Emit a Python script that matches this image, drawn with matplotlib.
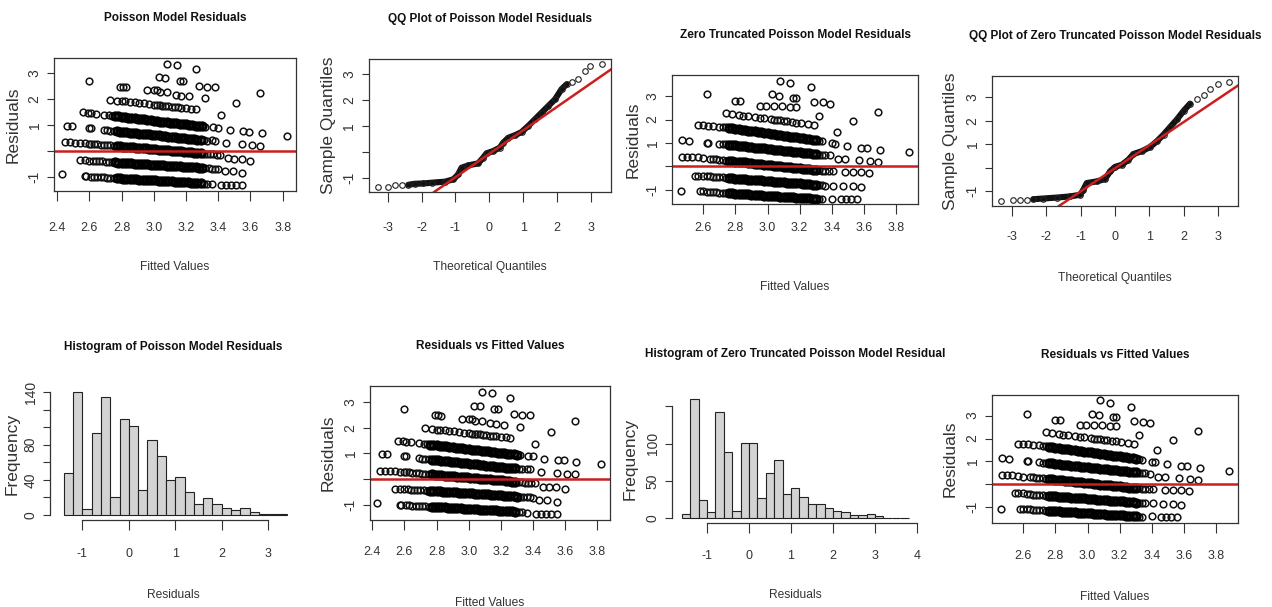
import numpy as np
import matplotlib
matplotlib.use("Agg")
import matplotlib.pyplot as plt
from matplotlib import font_manager as fm

W, H = 1272, 607

# ---------------- data ----------------
# Poisson model: (fitted value, residual), one list per visible band
p_band1 = [(2.73, 1.97), (2.77, 1.94), (2.80, 1.92), (2.82, 1.91), (2.85, 1.89), (2.88, 1.87), (2.91, 1.85),
           (2.94, 1.83), (2.97, 1.80), (3.00, 1.78), (3.02, 1.77), (3.04, 1.76), (3.05, 1.75), (3.07, 1.74),
           (3.09, 1.72), (3.11, 1.71), (3.13, 1.69), (3.15, 1.68), (3.17, 1.67), (3.20, 1.65), (3.23, 1.62),
           (3.26, 1.60)]
p_band2 = [(2.56, 1.49), (2.59, 1.47), (2.61, 1.45), (2.64, 1.43), (2.69, 1.39), (2.72, 1.37), (2.74, 1.36),
           (2.76, 1.34), (2.78, 1.33), (2.80, 1.31), (2.82, 1.30), (2.84, 1.28), (2.86, 1.27), (2.88, 1.25),
           (2.90, 1.24), (2.92, 1.22), (2.94, 1.21), (2.96, 1.19), (2.98, 1.18), (3.00, 1.16), (3.02, 1.15),
           (3.04, 1.13), (3.06, 1.12), (3.08, 1.11), (3.10, 1.09), (3.12, 1.08), (3.14, 1.06), (3.16, 1.05),
           (3.18, 1.03), (3.20, 1.02), (3.22, 1.00), (3.24, 0.99), (3.26, 0.97), (3.28, 0.96), (3.30, 0.94),
           (3.32, 0.93), (3.37, 0.90), (3.40, 0.88)]
p_band3 = [(2.46, 0.97), (2.49, 0.96), (2.60, 0.88), (2.61, 0.88), (2.69, 0.81), (2.71, 0.80), (2.73, 0.78),
           (2.75, 0.77), (2.77, 0.76), (2.79, 0.74), (2.81, 0.73), (2.83, 0.72), (2.85, 0.70), (2.87, 0.69),
           (2.89, 0.68), (2.91, 0.66), (2.93, 0.65), (2.95, 0.64), (2.97, 0.63), (2.99, 0.61), (3.01, 0.60),
           (3.03, 0.59), (3.05, 0.57), (3.07, 0.56), (3.09, 0.55), (3.11, 0.53), (3.13, 0.52), (3.15, 0.51),
           (3.17, 0.49), (3.19, 0.48), (3.21, 0.47), (3.23, 0.45), (3.25, 0.44), (3.27, 0.43), (3.29, 0.42),
           (3.31, 0.40), (3.33, 0.39), (3.36, 0.40), (3.38, 0.38)]
p_band4 = [(2.45, 0.32), (2.48, 0.32), (2.51, 0.31), (2.54, 0.30), (2.57, 0.29), (2.60, 0.27), (2.61, 0.27),
           (2.63, 0.26), (2.65, 0.25), (2.67, 0.24), (2.69, 0.23), (2.71, 0.22), (2.73, 0.21), (2.75, 0.20),
           (2.77, 0.19), (2.79, 0.17), (2.81, 0.16), (2.83, 0.15), (2.85, 0.14), (2.87, 0.13), (2.89, 0.12),
           (2.91, 0.11), (2.93, 0.10), (2.95, 0.09), (2.97, 0.08), (2.99, 0.07), (3.01, 0.06), (3.03, 0.04),
           (3.05, 0.03), (3.07, 0.02), (3.09, 0.01), (3.11, 0.00), (3.13, -0.01), (3.15, -0.02), (3.17, -0.03),
           (3.19, -0.04), (3.21, -0.05), (3.23, -0.06), (3.25, -0.08), (3.27, -0.09), (3.29, -0.10),
           (3.31, -0.11), (3.33, -0.12), (3.35, -0.13), (3.37, -0.14), (3.39, -0.15), (3.41, -0.16)]
p_band5 = [(2.54, -0.36), (2.57, -0.36), (2.60, -0.38), (2.62, -0.39), (2.64, -0.40), (2.66, -0.41),
           (2.68, -0.41), (2.70, -0.42), (2.72, -0.43), (2.74, -0.44), (2.76, -0.45), (2.78, -0.46),
           (2.80, -0.46), (2.82, -0.47), (2.84, -0.48), (2.86, -0.49), (2.88, -0.50), (2.90, -0.50),
           (2.92, -0.51), (2.94, -0.52), (2.96, -0.53), (2.98, -0.54), (3.00, -0.55), (3.02, -0.55),
           (3.04, -0.56), (3.06, -0.57), (3.08, -0.58), (3.10, -0.59), (3.12, -0.59), (3.14, -0.60),
           (3.16, -0.61), (3.18, -0.62), (3.20, -0.63), (3.22, -0.64), (3.24, -0.64), (3.26, -0.65),
           (3.28, -0.66), (3.30, -0.67), (3.32, -0.68), (3.34, -0.68), (3.36, -0.69), (3.38, -0.70),
           (3.40, -0.71), (3.44, -0.80), (3.49, -0.80), (3.55, -0.87)]
p_band6 = [(2.43, -0.92), (2.57, -0.99), (2.58, -0.99), (2.61, -1.00), (2.63, -1.01), (2.65, -1.02),
           (2.67, -1.03), (2.69, -1.03), (2.71, -1.04), (2.73, -1.05), (2.75, -1.06), (2.77, -1.06),
           (2.79, -1.07), (2.81, -1.08), (2.83, -1.09), (2.85, -1.09), (2.87, -1.10), (2.89, -1.11),
           (2.91, -1.12), (2.93, -1.12), (2.95, -1.13), (2.97, -1.14), (2.99, -1.15), (3.01, -1.15),
           (3.03, -1.16), (3.05, -1.17), (3.07, -1.18), (3.09, -1.18), (3.11, -1.19), (3.13, -1.20),
           (3.15, -1.21), (3.17, -1.21), (3.19, -1.22), (3.21, -1.23), (3.23, -1.24), (3.25, -1.24),
           (3.27, -1.25), (3.29, -1.26), (3.31, -1.27), (3.33, -1.27), (3.36, -1.30), (3.42, -1.33),
           (3.45, -1.33), (3.48, -1.33), (3.51, -1.33), (3.55, -1.33)]
p_sparse = [(3.08, 3.36), (3.145, 3.32), (3.26, 3.15), (2.60, 2.71), (3.03, 2.84), (3.07, 2.83), (3.16, 2.71),
            (3.18, 2.71), (2.79, 2.48), (2.81, 2.48), (2.83, 2.46), (2.96, 2.35), (3.00, 2.35), (3.02, 2.35),
            (3.04, 2.26), (3.08, 2.26), (3.135, 2.16), (3.17, 2.13), (3.22, 2.11), (3.28, 2.52), (3.33, 2.48),
            (3.38, 2.47), (3.32, 2.03), (3.66, 2.25), (3.51, 1.84), (3.415, 1.38), (3.47, 0.80), (3.555, 0.76),
            (3.59, 0.74), (3.67, 0.67), (3.825, 0.58), (3.45, 0.28), (3.55, 0.25), (3.61, 0.22), (3.66, 0.19),
            (3.46, -0.30), (3.50, -0.31), (3.545, -0.31), (3.60, -0.39)]

# Zero truncated Poisson model: (fitted value, residual)
z_band1 = [(2.74, 2.27), (2.78, 2.23), (2.82, 2.20), (2.85, 2.17), (2.88, 2.14), (2.92, 2.11), (2.95, 2.08),
           (2.98, 2.05), (3.02, 2.02), (3.04, 2.00), (3.06, 1.98), (3.08, 1.96), (3.10, 1.94), (3.12, 1.93),
           (3.15, 1.90), (3.18, 1.87), (3.21, 1.84), (3.25, 1.81), (3.29, 1.77)]
z_band2 = [(2.57, 1.77), (2.60, 1.76), (2.63, 1.74), (2.66, 1.72), (2.70, 1.70), (2.72, 1.68), (2.74, 1.66),
           (2.76, 1.64), (2.78, 1.62), (2.80, 1.60), (2.82, 1.58), (2.84, 1.56), (2.86, 1.54), (2.88, 1.53),
           (2.90, 1.51), (2.92, 1.49), (2.94, 1.47), (2.96, 1.45), (2.98, 1.43), (3.00, 1.41), (3.02, 1.39),
           (3.04, 1.37), (3.06, 1.35), (3.08, 1.33), (3.10, 1.31), (3.12, 1.29), (3.14, 1.27), (3.16, 1.25),
           (3.18, 1.24), (3.20, 1.22), (3.22, 1.20), (3.24, 1.18), (3.26, 1.16), (3.28, 1.14), (3.30, 1.12),
           (3.32, 1.10), (3.34, 1.08), (3.40, 0.99), (3.42, 0.97)]
z_band3 = [(2.47, 1.13), (2.51, 1.10), (2.62, 1.01), (2.63, 1.00), (2.70, 0.97), (2.72, 0.95), (2.74, 0.94),
           (2.76, 0.92), (2.78, 0.91), (2.80, 0.89), (2.82, 0.88), (2.84, 0.86), (2.86, 0.85), (2.88, 0.83),
           (2.90, 0.82), (2.92, 0.80), (2.94, 0.79), (2.96, 0.77), (2.98, 0.76), (3.00, 0.74), (3.02, 0.73),
           (3.04, 0.71), (3.06, 0.70), (3.08, 0.68), (3.10, 0.67), (3.12, 0.65), (3.14, 0.64), (3.16, 0.62),
           (3.18, 0.61), (3.20, 0.59), (3.22, 0.58), (3.24, 0.56), (3.26, 0.55), (3.28, 0.53), (3.30, 0.52),
           (3.32, 0.50), (3.34, 0.49), (3.36, 0.48), (3.39, 0.46), (3.44, 0.31), (3.48, 0.31)]
z_band4 = [(2.47, 0.41), (2.50, 0.41), (2.53, 0.41), (2.57, 0.38), (2.60, 0.34), (2.64, 0.31), (2.66, 0.30),
           (2.68, 0.29), (2.70, 0.27), (2.72, 0.26), (2.74, 0.24), (2.76, 0.23), (2.78, 0.21), (2.80, 0.20),
           (2.82, 0.18), (2.84, 0.17), (2.86, 0.16), (2.88, 0.14), (2.90, 0.13), (2.92, 0.11), (2.94, 0.10),
           (2.96, 0.08), (2.98, 0.07), (3.00, 0.05), (3.02, 0.04), (3.04, 0.02), (3.06, 0.01), (3.08, -0.01),
           (3.10, -0.02), (3.12, -0.03), (3.14, -0.05), (3.16, -0.06), (3.18, -0.08), (3.20, -0.09),
           (3.22, -0.11), (3.24, -0.12), (3.26, -0.14), (3.28, -0.15), (3.30, -0.16), (3.32, -0.18),
           (3.34, -0.19), (3.36, -0.19), (3.385, -0.19), (3.41, -0.19)]
z_band5 = [(2.55, -0.40), (2.57, -0.40), (2.60, -0.40), (2.62, -0.43), (2.64, -0.44), (2.66, -0.45),
           (2.68, -0.46), (2.70, -0.47), (2.72, -0.48), (2.74, -0.49), (2.76, -0.50), (2.78, -0.51),
           (2.80, -0.53), (2.82, -0.54), (2.84, -0.55), (2.86, -0.56), (2.88, -0.57), (2.90, -0.58),
           (2.92, -0.59), (2.94, -0.60), (2.96, -0.61), (2.98, -0.62), (3.00, -0.63), (3.02, -0.65),
           (3.04, -0.66), (3.06, -0.67), (3.08, -0.68), (3.10, -0.69), (3.12, -0.70), (3.14, -0.71),
           (3.16, -0.72), (3.18, -0.73), (3.20, -0.74), (3.22, -0.75), (3.24, -0.77), (3.26, -0.78),
           (3.28, -0.79), (3.30, -0.80), (3.32, -0.81), (3.34, -0.82), (3.36, -0.83), (3.41, -0.83),
           (3.47, -0.85), (3.53, -0.85), (3.58, -0.90)]
z_band6 = [(2.46, -1.06), (2.58, -1.06), (2.60, -1.08), (2.62, -1.09), (2.64, -1.10), (2.66, -1.11),
           (2.68, -1.12), (2.70, -1.13), (2.72, -1.14), (2.74, -1.15), (2.76, -1.15), (2.78, -1.16),
           (2.80, -1.17), (2.82, -1.18), (2.84, -1.19), (2.86, -1.20), (2.88, -1.21), (2.90, -1.22),
           (2.92, -1.23), (2.94, -1.24), (2.96, -1.25), (2.98, -1.26), (3.00, -1.26), (3.02, -1.27),
           (3.04, -1.28), (3.06, -1.29), (3.08, -1.30), (3.10, -1.31), (3.12, -1.32), (3.14, -1.33),
           (3.16, -1.34), (3.18, -1.35), (3.20, -1.36), (3.22, -1.36), (3.24, -1.37), (3.26, -1.38),
           (3.28, -1.39), (3.30, -1.40), (3.32, -1.41), (3.34, -1.42), (3.40, -1.40), (3.46, -1.42),
           (3.49, -1.42), (3.52, -1.42), (3.56, -1.42)]
z_sparse = [(3.08, 3.67), (3.14, 3.56), (3.27, 3.39), (2.62, 3.09), (3.03, 3.09), (3.07, 3.03), (3.16, 2.94),
            (3.18, 2.92), (2.80, 2.80), (2.83, 2.80), (2.95, 2.59), (2.99, 2.59), (3.04, 2.57), (3.09, 2.57),
            (3.14, 2.55), (3.18, 2.55), (3.29, 2.77), (3.345, 2.74), (3.39, 2.66), (3.32, 2.16), (3.69, 2.34),
            (3.53, 1.94), (3.43, 1.48), (3.495, 0.88), (3.58, 0.80), (3.62, 0.80), (3.70, 0.70), (3.88, 0.60),
            (3.57, 0.27), (3.64, 0.23), (3.69, 0.20), (3.48, -0.23), (3.53, -0.23), (3.58, -0.26), (3.63, -0.30)]

# QQ plots: theoretical vs sample quantiles
p_qq_theo = [-3.29, -2.98, -2.78, -2.59, -2.39, -2.19, -1.95, -1.70, -1.31, -1.06, -0.92, -0.82, -0.62,
             -0.33, -0.18, -0.08, 0.12, 0.31, 0.41, 0.56, 0.76, 0.95, 1.15, 1.35, 1.54, 1.74, 1.94, 2.13,
             2.28, 2.43, 2.62, 2.82, 2.97, 3.31]
p_qq_samp = [-1.37, -1.36, -1.30, -1.29, -1.28, -1.24, -1.23, -1.20, -1.16, -1.07, -0.88, -0.62, -0.53,
             -0.45, -0.23, -0.06, 0.03, 0.16, 0.35, 0.54, 0.64, 0.76, 1.00, 1.26, 1.51, 1.77, 2.03, 2.42,
             2.61, 2.70, 2.83, 3.13, 3.32, 3.39]
p_qqline = (-0.08, 0.91)  # intercept, slope

z_qq_theo = [-3.32, -2.97, -2.76, -2.56, -2.37, -2.08, -1.69, -1.30, -1.01, -0.92, -0.82, -0.53, -0.29,
             -0.14, 0.00, 0.20, 0.39, 0.535, 0.78, 1.02, 1.22, 1.41, 1.60, 1.80, 1.99, 2.18, 2.38, 2.57,
             2.77, 2.99, 3.32]
z_qq_samp = [-1.42, -1.40, -1.38, -1.38, -1.35, -1.32, -1.28, -1.23, -1.16, -0.95, -0.66, -0.59, -0.49,
             -0.16, 0.03, 0.12, 0.34, 0.58, 0.70, 0.88, 1.13, 1.41, 1.73, 2.06, 2.42, 2.73, 2.91, 3.09,
             3.37, 3.56, 3.66]
z_qqline = (-0.03, 0.99)

# histograms
p_breaks = [-1.4, -1.2, -1.0, -0.8, -0.6, -0.4, -0.2, 0.0, 0.2, 0.4, 0.6, 0.8, 1.0, 1.2, 1.4, 1.6, 1.8,
            2.0, 2.2, 2.4, 2.6, 2.8, 3.0, 3.2, 3.4]
p_counts = [48, 140, 7, 93, 134, 21, 109, 101, 28, 85, 67, 40, 43, 26, 13, 19, 12, 8, 6, 8, 3, 1, 1, 1]
z_breaks = [-1.6, -1.4, -1.2, -1.0, -0.8, -0.6, -0.4, -0.2, 0.0, 0.2, 0.4, 0.6, 0.8, 1.0, 1.2, 1.4, 1.6,
            1.8, 2.0, 2.2, 2.4, 2.6, 2.8, 3.0, 3.2, 3.4, 3.6, 3.8]
z_counts = [6, 160, 25, 8, 142, 89, 10, 101, 101, 27, 61, 78, 32, 41, 29, 19, 19, 14, 10, 8, 4, 4, 6, 3,
            0, 0, 1]

fit_ticks_p = [2.4, 2.6, 2.8, 3.0, 3.2, 3.4, 3.6, 3.8]
fit_ticks_z = [2.6, 2.8, 3.0, 3.2, 3.4, 3.6, 3.8]
qq_ticks = [-3, -2, -1, 0, 1, 2, 3]
res_ticks = [-1, 0, 1, 2, 3]
res_labels = ["-1", "", "1", "2", "3"]

# ---------------- style ----------------
names = {f.name for f in fm.fontManager.ttflist}
NARROW = "Liberation Sans Narrow" if "Liberation Sans Narrow" in names else "Liberation Sans"
k = 1.0 if NARROW.endswith("Narrow") else 0.82
WIDE = "Liberation Sans"
RED = "#cc1e1e"
INK = "#333333"

fig = plt.figure(figsize=(W / 100, H / 100), dpi=100)
fig.patch.set_facecolor("white")


def add_axes(box):
    l, t, r, b = box
    return fig.add_axes([l / W, 1 - b / H, (r - l) / W, (b - t) / H])


def ptext(x, y, s, **kw):
    fig.text(x / W, 1 - y / H, s, ha="center", va="center", **kw)


def decorate(ax, box, title, xlab, ylab, xlab_y, ylab_x, xticks, xlabels, yticks, ylabels, xpad):
    l, t, r, b = box
    ax.set_xticks(xticks, xlabels, fontfamily=NARROW, fontsize=11 * k, color=INK)
    ax.set_yticks(yticks, ylabels, fontfamily=WIDE, fontsize=10, color=INK, rotation=90, va="center")
    ax.tick_params(axis="x", length=7, width=0.8, color=INK, pad=xpad * 0.72)
    ax.tick_params(axis="y", length=5, width=0.8, color=INK, pad=4)
    for s in ax.spines.values():
        s.set_color(INK)
        s.set_linewidth(0.9)
    ptext((l + r) / 2, t - 40, title, fontfamily=NARROW, fontweight="bold", fontsize=10.3 * k, color="#111111")
    ptext((l + r) / 2, xlab_y, xlab, fontfamily=NARROW, fontsize=10.5 * k, color=INK)
    ptext(ylab_x, (t + b) / 2, ylab, fontfamily=WIDE, fontsize=12.5, color=INK, rotation=90)


def resid_panel(box, bands, sparse, xlim, ylim, xticks, xpad, title, xlab_y, ylab_x):
    ax = add_axes(box)
    for band in bands + [sparse]:
        xs, ys = zip(*band)
        ax.plot(xs, ys, "o", ms=4.8, mfc="none", mec="#111111", mew=1.1)
    # the crowded middle of the lower bands prints almost solid black
    for band in bands[1:]:
        cx, cy = zip(*[(a, b) for a, b in band if 2.76 <= a <= 3.30])
        ax.plot(cx, cy, "o", ms=5.2, mfc="none", mec="#000000", mew=2.2)
    ax.axhline(0, color=RED, lw=1.8)
    ax.set_xlim(*xlim)
    ax.set_ylim(*ylim)
    decorate(ax, box, title, "Fitted Values", "Residuals", xlab_y, ylab_x,
             xticks, [f"{v:.1f}" for v in xticks], res_ticks, res_labels, xpad)


def qq_panel(box, theo, samp, line, xlim, ylim, xpad, title, xlab_y, ylab_x):
    ax = add_axes(box)
    mid = [(a, b) for a, b in zip(theo, samp) if -2.5 < a < 2.3]
    mx, my = zip(*mid)
    ax.plot(mx, my, "-", color="#111111", lw=4.4, solid_capstyle="round", solid_joinstyle="round")
    ax.plot(theo, samp, "o", ms=4.0, mfc="none", mec="#222222", mew=0.8)
    ax.axline((0, line[0]), slope=line[1], color=RED, lw=1.8)
    ax.set_xlim(*xlim)
    ax.set_ylim(*ylim)
    decorate(ax, box, title, "Theoretical Quantiles", "Sample Quantiles", xlab_y, ylab_x,
             qq_ticks, [str(v) for v in qq_ticks], res_ticks, res_labels, xpad)


def hist_panel(box, breaks, counts, xlim, ylim, xticks, yticks, ylabels, xpad, title, xlab_y, ylab_x):
    ax = add_axes(box)
    ax.bar(breaks[:-1], counts, width=np.diff(breaks), align="edge",
           color="#d3d3d3", edgecolor="#222222", linewidth=0.8)
    ax.set_xlim(*xlim)
    ax.set_ylim(*ylim)
    ax.spines[["top", "right"]].set_visible(False)
    decorate(ax, box, title, "Residuals", "Frequency", xlab_y, ylab_x,
             xticks, [str(v) for v in xticks], yticks, ylabels, xpad)
    ax.spines["left"].set_bounds(yticks[0], yticks[-1])
    ax.spines["bottom"].set_bounds(xticks[0], xticks[-1])


p_bands = [p_band1, p_band2, p_band3, p_band4, p_band5, p_band6]
z_bands = [z_band1, z_band2, z_band3, z_band4, z_band5, z_band6]

resid_panel((54, 58, 296, 191), p_bands, p_sparse, (2.38, 3.883), (-1.56, 3.59), fit_ticks_p, 21,
            "Poisson Model Residuals", 267, 13)
qq_panel((369, 59, 611, 192), p_qq_theo, p_qq_samp, p_qqline, (-3.55, 3.59), (-1.56, 3.59), 20,
         "QQ Plot of Poisson Model Residuals", 267, 328)
resid_panel((672, 75, 918, 204), z_bands, z_sparse, (2.405, 3.937), (-1.62, 3.91), fit_ticks_z, 8,
            "Zero Truncated Poisson Model Residuals", 287, 633)
qq_panel((992, 76, 1238, 206), z_qq_theo, z_qq_samp, z_qqline, (-3.57, 3.57), (-1.64, 3.91), 15,
         "QQ Plot of Zero Truncated Poisson Model Residuals", 278, 950)

hist_panel((50, 387, 296, 520), p_breaks, p_counts, (-1.695, 3.596), (-5.7, 145.7), [-1, 0, 1, 2, 3],
           [0, 20, 40, 60, 80, 100, 120, 140], ["0", "", "40", "", "80", "", "", "140"], 18,
           "Histogram of Poisson Model Residuals", 595, 12)
resid_panel((370, 386, 610, 520), p_bands, p_sparse, (2.386, 3.879), (-1.58, 3.61), fit_ticks_p, 16,
            "Residuals vs Fitted Values", 603, 328)
hist_panel((672, 394, 918, 523), z_breaks, z_counts, (-1.833, 4.024), (-6.3, 166.6), [-1, 0, 1, 2, 3, 4],
           [0, 50, 100, 150], ["0", "50", "100", ""], 17,
           "Histogram of Zero Truncated Poisson Model Residual", 595, 630)
resid_panel((992, 395, 1238, 523), z_bands, z_sparse, (2.405, 3.937), (-1.69, 3.90), fit_ticks_z, 17,
            "Residuals vs Fitted Values", 597, 950)

fig.savefig("out.png", dpi=100)
